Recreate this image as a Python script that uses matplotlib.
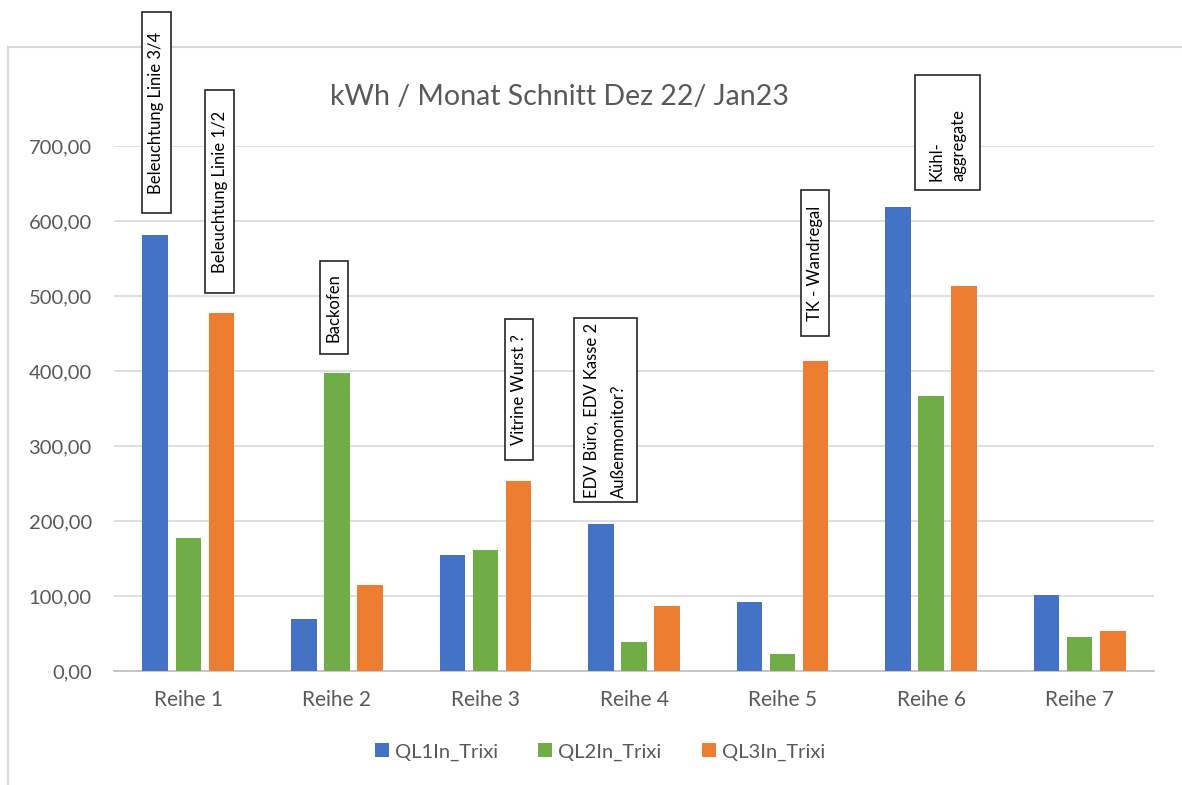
import matplotlib.pyplot as plt
import matplotlib.patches as patches
import numpy as np

plt.rcParams['font.family'] = ['Lato', 'DejaVu Sans']

reihen = ['Reihe 1', 'Reihe 2', 'Reihe 3', 'Reihe 4', 'Reihe 5', 'Reihe 6', 'Reihe 7']
serien = ['QL1In_Trixi', 'QL2In_Trixi', 'QL3In_Trixi']
ql1 = [581, 69, 155, 196, 92, 619, 101]
ql2 = [177, 397, 161, 39, 23, 367, 45]
ql3 = [477, 115, 253, 87, 413, 513, 53]
y_ticks = [0, 100, 200, 300, 400, 500, 600, 700]

farben = ['#4472C4', '#70AD47', '#ED7D31']
grau = '#595959'

W, H = 1182, 785
fig = plt.figure(figsize=(W / 100, H / 100), dpi=100)
ax = fig.add_axes([114 / W, 1 - 671 / H, (1154 - 114) / W, (671 - 146) / H])

x = np.arange(len(reihen))
breite = 0.172
abstand = 0.223
for i, (werte, name) in enumerate(zip([ql1, ql2, ql3], serien)):
    ax.bar(x + (i - 1) * abstand, werte, width=breite, color=farben[i], label=name, zorder=3)

ax.set_xlim(-0.5, len(reihen) - 0.5)
ax.set_ylim(0, 700)
ax.set_yticks(y_ticks)
ax.set_yticklabels([f'{v:.2f}'.replace('.', ',') for v in y_ticks])
ax.set_xticks(x)
ax.set_xticklabels(reihen)
ax.tick_params(axis='y', length=0, pad=16, labelsize=14.5, labelcolor=grau)
ax.tick_params(axis='x', length=0, pad=14, labelsize=15, labelcolor=grau)
ax.grid(axis='y', color='#D9D9D9', lw=1.2, zorder=0)
for s in ['top', 'right', 'left']:
    ax.spines[s].set_visible(False)
ax.spines['bottom'].set_color('#BFBFBF')
ax.spines['bottom'].set_linewidth(1.2)

fig.text(560 / W, 1 - 97 / H, 'kWh / Monat Schnitt Dez 22/ Jan23', ha='center', va='center',
         fontsize=20.5, color=grau)

fig.legend(loc='center', bbox_to_anchor=(600 / W, 1 - 752 / H), ncol=3, frameon=False,
           fontsize=14.5, labelcolor=grau, handlelength=0.7, handleheight=0.7,
           handletextpad=0.3, columnspacing=2.0)

# Rahmen um das Diagramm
fig.add_artist(patches.Rectangle((8 / W, -0.1), 1.2, 1.1 - 47 / H, transform=fig.transFigure,
                                 fill=False, edgecolor='#D9D9D9', lw=1.5))

# Beschriftungsfelder (x0, x1, y0, y1 in Pixel), Text
felder = [
    ((142, 171, 12, 213), 'Beleuchtung Linie 3/4', 'center', 1.2),
    ((205, 234, 90, 293), 'Beleuchtung Linie 1/2', 'center', 1.2),
    ((320, 348, 261, 354), 'Backofen', 'center', 1.2),
    ((505, 533, 319, 460), 'Vitrine Wurst ?', 'center', 1.2),
    ((574, 637, 318, 502), 'EDV Büro, EDV Kasse 2\nAußenmonitor?', 'center', 1.9),
    ((801, 829, 190, 336), 'TK - Wandregal', 'center', 1.2),
    ((915, 980, 75, 190), 'Kühl-\naggregate', 'bottom', 1.5),
]
for (x0, x1, y0, y1), txt, va, ls in felder:
    fig.add_artist(patches.Rectangle((x0 / W, 1 - y1 / H), (x1 - x0) / W, (y1 - y0) / H,
                                     transform=fig.transFigure, facecolor='white',
                                     edgecolor='#262626', lw=1.2, zorder=5))
    ty = (y0 + y1) / 2 if va == 'center' else y1 - 9
    fig.text((x0 + x1) / 2 / W, 1 - ty / H, txt, rotation=90, ha='center', va=va,
             multialignment='left', linespacing=ls, fontsize=12, color='black', zorder=6)

fig.savefig('out.png', dpi=100)
